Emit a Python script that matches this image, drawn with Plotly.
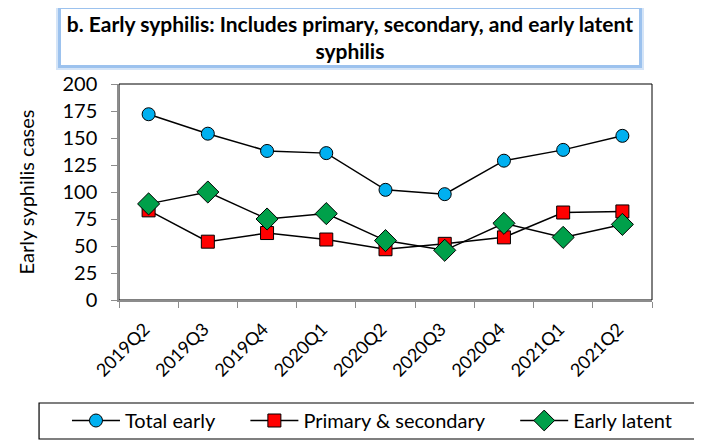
import plotly.graph_objects as go

quarters = ["2019Q2", "2019Q3", "2019Q4", "2020Q1", "2020Q2", "2020Q3", "2020Q4", "2021Q1", "2021Q2"]
total_early = [172, 154, 138, 136, 102, 98, 129, 139, 152]
primary_secondary = [83, 54, 62, 56, 47, 52, 58, 81, 82]
early_latent = [89, 100, 75, 80, 55, 46, 71, 58, 70]
y_ticks = [0, 25, 50, 75, 100, 125, 150, 175, 200]

FONT = "Lato, 'Open Sans', sans-serif"
NB = "\u00a0"
TITLE = "<b>b. Early syphilis: Includes primary, secondary, and early latent<br>syphilis</b>"

fig = go.Figure()
fig.add_trace(go.Scatter(
    x=quarters, y=total_early, name="Total early" + NB * 5, mode="lines+markers",
    line=dict(color="black", width=1.5),
    marker=dict(symbol="circle", size=13, color="#00B0F0", line=dict(color="black", width=1)),
))
fig.add_trace(go.Scatter(
    x=quarters, y=primary_secondary, name="Primary & secondary" + NB * 5, mode="lines+markers",
    line=dict(color="black", width=1.5),
    marker=dict(symbol="square", size=13, color="#FF0000", line=dict(color="black", width=1)),
))
fig.add_trace(go.Scatter(
    x=quarters, y=early_latent, name="Early latent", mode="lines+markers",
    line=dict(color="black", width=1.5),
    marker=dict(symbol="diamond", size=17, color="#00A04A", line=dict(color="black", width=1)),
))

fig.update_layout(
    width=702, height=440,
    margin=dict(l=111, r=58, t=76, b=148, autoexpand=False),
    paper_bgcolor="white", plot_bgcolor="white",
    font=dict(family=FONT, color="black", size=16),
    showlegend=True,
    legend=dict(
        orientation="h", x=-0.0976, xanchor="left", y=-0.4676, yanchor="top",
        borderwidth=0, bgcolor="rgba(0,0,0,0)",
        font=dict(size=20, family=FONT), itemwidth=48,
        tracegroupgap=0,
    ),
    xaxis=dict(
        type="category", range=[-0.5, 8.5],
        showline=True, linecolor="#8c8c8c", linewidth=1.5,
        ticks="outside", tickson="boundaries", ticklen=6, tickcolor="#8c8c8c",
        tickangle=-45, tickfont=dict(size=18, family=FONT),
        ticklabelstandoff=10, ticklabelshift=-4,
        showgrid=False, zeroline=False,
    ),
    yaxis=dict(
        range=[0, 200], tickvals=y_ticks,
        showline=True, linecolor="#8c8c8c", linewidth=1.5,
        ticks="outside", ticklen=6, tickcolor="#8c8c8c",
        tickfont=dict(size=20, family=FONT), ticklabelstandoff=10,
        showgrid=False, zeroline=False,
        title=dict(text="Early syphilis cases", font=dict(size=20, family=FONT), standoff=22),
    ),
)

fig.add_shape(type="rect", xref="x domain", yref="y domain", x0=0, x1=1, y0=0, y1=1,
              line=dict(color="black", width=1), layer="below")

# legend frame
fig.add_shape(type="rect", xref="paper", yref="paper", x0=-0.150, x1=1.092, y0=-0.6435, y1=-0.4769,
              line=dict(color="black", width=1.2), fillcolor="rgba(0,0,0,0)", layer="above")

# title box: soft glow behind, then the box itself
fig.add_annotation(
    x=0.4334, y=1.218, xref="paper", yref="paper", xanchor="center", yanchor="middle",
    text=" ", showarrow=False, font=dict(size=21, family=FONT),
    bgcolor="white", bordercolor="#D4E4F7", borderwidth=5, borderpad=0,
    width=578, height=56,
)
fig.add_annotation(
    x=0.4334, y=1.218, xref="paper", yref="paper", xanchor="center", yanchor="middle",
    text=TITLE, showarrow=False, font=dict(size=21, family=FONT, color="black"),
    bgcolor="white", bordercolor="#9CC2EE", borderwidth=3, borderpad=0,
    width=578, height=56, valign="middle", align="center",
)

fig.write_html("out.html")
